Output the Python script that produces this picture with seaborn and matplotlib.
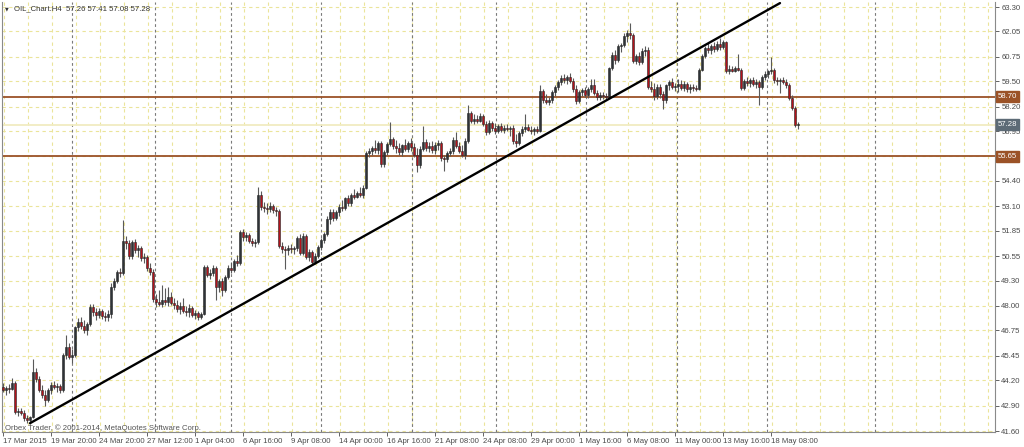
import numpy as np
import pandas as pd
import seaborn as sns
import matplotlib.pyplot as plt

# H4 candles (one value per bar)
opens = [
    43.85, 43.70, 43.80, 43.75, 44.05, 42.55, 42.65, 42.50, 42.25, 42.15,
    42.30, 44.60, 44.25, 43.70, 43.45, 43.20, 43.70, 43.95, 43.85, 43.90,
    43.70, 45.50, 45.90, 45.40, 45.50, 46.90, 47.20, 47.00, 46.75, 47.10,
    47.95, 47.70, 47.55, 47.75, 47.50, 47.45, 47.60, 48.95, 49.30, 49.75,
    49.70, 51.30, 51.20, 50.55, 51.25, 50.85, 50.95, 50.45, 50.50, 49.95,
    49.75, 48.35, 48.20, 48.10, 48.30, 48.20, 48.45, 48.15, 48.05, 47.85,
    48.00, 47.75, 47.70, 47.90, 47.55, 47.65, 47.45, 47.60, 50.00, 49.60,
    49.70, 49.95, 48.95, 49.30, 48.80, 49.50, 49.95, 49.85, 50.30, 50.20,
    51.80, 51.55, 51.65, 51.30, 51.20, 51.25, 53.70, 53.05, 53.00, 52.95,
    53.10, 52.90, 52.85, 51.05, 50.90, 50.85, 50.95, 50.90, 50.95, 51.50,
    50.70, 51.60, 50.50, 50.75, 50.25, 50.55, 51.00, 51.40, 51.70, 52.45,
    52.80, 52.50, 52.80, 53.05, 53.00, 53.50, 53.25, 53.70, 53.60, 53.80,
    53.70, 54.05, 55.85, 55.95, 56.10, 56.00, 56.35, 55.25, 55.90, 56.30,
    56.55, 56.20, 56.10, 55.90, 56.25, 56.05, 56.35, 56.15, 55.75, 55.20,
    56.05, 56.40, 56.10, 56.20, 56.00, 56.25, 56.35, 55.55, 55.50, 55.85,
    55.95, 56.50, 56.20, 55.95, 55.75, 56.45, 57.85, 57.45, 57.55, 57.45,
    57.70, 57.30, 56.90, 57.35, 57.10, 56.95, 57.20, 57.00, 57.10, 57.05,
    57.10, 56.45, 56.35, 56.85, 57.05, 57.15, 57.00, 56.95, 57.05, 56.95,
    59.00, 58.55, 58.45, 58.55, 58.95, 59.20, 59.45, 59.65, 59.55, 59.70,
    59.50, 59.10, 58.50, 58.95, 59.05, 58.80, 59.10, 59.30, 58.90, 58.70,
    58.80, 58.75, 58.70, 60.20, 60.85, 60.60, 61.30, 61.35, 61.80, 61.95,
    61.85, 60.55, 60.80, 60.50, 61.05, 61.10, 59.20, 59.10, 58.75, 59.20,
    58.85, 58.55, 59.30, 59.45, 59.20, 59.25, 59.35, 59.15, 59.35, 59.10,
    59.20, 59.15, 59.10, 60.10, 60.80, 61.20, 61.10, 61.30, 61.15, 61.40,
    61.25, 61.50, 60.05, 60.15, 60.05, 60.20, 60.10, 59.15, 59.50, 59.40,
    59.55, 59.35, 59.45, 59.20, 59.70, 59.85, 60.00, 60.10, 59.55, 59.50,
    59.55, 59.45, 59.30, 58.65, 58.15, 57.26,
]
highs = [
    44.05, 43.90, 44.00, 44.30, 44.15, 42.80, 42.80, 42.70, 42.40, 42.35,
    45.30, 44.80, 44.40, 43.95, 43.70, 43.80, 44.10, 44.15, 44.05, 44.00,
    45.60, 46.50, 46.10, 45.80, 47.00, 47.40, 47.45, 47.30, 47.20, 48.10,
    48.10, 47.90, 47.90, 47.85, 47.70, 47.80, 49.20, 49.45, 49.85, 49.95,
    52.40, 51.60, 51.40, 51.40, 51.45, 51.10, 51.05, 50.70, 50.60, 50.20,
    49.90, 48.60, 48.80, 49.05, 48.90, 48.95, 48.70, 48.40, 48.30, 48.20,
    48.40, 48.00, 48.10, 48.00, 47.80, 47.75, 47.70, 50.10, 50.10, 49.90,
    50.10, 50.05, 49.40, 49.45, 49.60, 50.10, 50.25, 50.40, 50.60, 51.90,
    51.95, 51.80, 51.75, 51.50, 51.45, 54.10, 53.90, 53.30, 53.25, 53.30,
    53.20, 53.05, 52.95, 51.25, 51.05, 51.10, 51.15, 51.05, 51.60, 51.70,
    51.75, 51.70, 50.90, 50.85, 50.70, 51.10, 51.50, 51.80, 52.60, 52.95,
    52.95, 52.90, 53.20, 53.40, 53.60, 53.70, 53.80, 54.00, 53.90, 54.10,
    54.20, 55.95, 56.10, 56.20, 56.50, 56.45, 56.45, 56.00, 56.40, 57.40,
    56.65, 56.50, 56.35, 56.30, 56.55, 56.45, 56.60, 56.35, 56.10, 56.20,
    57.20, 56.55, 56.40, 56.45, 56.40, 56.50, 56.45, 55.75, 55.95, 56.10,
    56.65, 56.90, 56.40, 56.25, 56.60, 58.30, 58.00, 57.80, 57.75, 57.85,
    57.80, 57.45, 57.50, 57.45, 57.35, 57.30, 57.35, 57.25, 57.30, 57.20,
    57.25, 56.80, 56.95, 57.20, 57.80, 57.30, 57.20, 57.15, 57.20, 59.30,
    59.10, 58.85, 58.70, 59.05, 59.30, 59.55, 59.80, 59.85, 59.80, 59.90,
    59.65, 59.30, 59.05, 59.15, 59.20, 59.20, 59.60, 59.60, 59.05, 58.95,
    58.95, 58.90, 60.25, 61.00, 61.10, 61.40, 61.45, 61.95, 62.10, 62.50,
    61.95, 60.90, 61.00, 61.20, 61.30, 61.25, 59.50, 59.40, 59.35, 59.35,
    59.00, 59.35, 59.55, 59.65, 59.40, 59.60, 59.55, 59.50, 59.45, 59.35,
    59.35, 59.30, 60.20, 60.90, 61.30, 61.45, 61.40, 61.50, 61.55, 61.70,
    61.60, 61.55, 60.35, 60.30, 60.30, 60.90, 60.20, 59.60, 59.70, 59.65,
    59.70, 59.60, 59.55, 59.80, 60.05, 60.10, 60.75, 60.20, 59.70, 59.65,
    59.70, 59.60, 59.40, 58.80, 58.25, 57.41,
]
lows = [
    43.60, 43.45, 43.55, 43.70, 42.45, 42.35, 42.40, 42.10, 42.00, 41.95,
    42.25, 44.10, 43.60, 43.30, 42.90, 43.10, 43.50, 43.75, 43.60, 43.55,
    43.60, 45.30, 45.30, 45.10, 45.40, 46.70, 46.80, 46.60, 46.50, 47.00,
    47.50, 47.30, 47.40, 47.35, 47.25, 47.25, 47.40, 48.80, 49.15, 49.50,
    49.60, 50.90, 50.40, 50.40, 50.70, 50.50, 50.30, 50.20, 49.80, 49.60,
    48.20, 47.95, 48.00, 47.95, 48.05, 48.00, 48.05, 47.85, 47.70, 47.60,
    47.65, 47.50, 47.45, 47.45, 47.35, 47.30, 47.35, 47.55, 49.50, 49.40,
    49.55, 48.30, 48.70, 48.50, 48.70, 49.40, 49.70, 49.75, 50.05, 50.10,
    51.35, 51.30, 51.20, 51.05, 51.00, 51.15, 52.90, 52.80, 52.70, 52.80,
    52.75, 52.60, 50.95, 50.70, 49.90, 50.60, 50.70, 50.65, 50.80, 50.60,
    50.60, 50.40, 50.30, 50.10, 50.15, 50.45, 50.85, 51.20, 51.60, 52.20,
    52.35, 52.40, 52.60, 52.85, 52.90, 53.10, 53.10, 53.45, 53.50, 53.60,
    53.55, 54.00, 55.60, 55.75, 55.85, 55.80, 55.10, 55.10, 55.75, 56.20,
    56.05, 55.85, 55.75, 55.70, 55.95, 55.90, 55.95, 55.60, 54.85, 55.05,
    55.95, 55.95, 55.90, 55.85, 55.80, 56.00, 55.40, 54.90, 55.35, 55.70,
    55.80, 56.10, 55.85, 55.60, 55.50, 56.35, 57.35, 57.30, 57.35, 57.40,
    57.20, 56.75, 56.80, 56.95, 56.80, 56.85, 56.90, 56.85, 56.95, 56.70,
    56.30, 56.15, 56.25, 56.70, 56.90, 56.95, 56.80, 56.75, 56.85, 56.90,
    58.40, 58.35, 58.30, 58.40, 58.75, 59.05, 59.30, 59.40, 59.35, 59.40,
    58.95, 58.35, 58.40, 58.75, 58.70, 58.65, 58.95, 58.80, 58.55, 58.55,
    58.60, 58.60, 58.65, 60.10, 60.40, 60.50, 61.00, 61.25, 61.50, 61.65,
    60.45, 60.40, 60.35, 60.40, 60.80, 59.10, 58.95, 58.55, 58.60, 58.65,
    58.10, 58.40, 59.05, 59.10, 59.00, 58.95, 59.05, 59.00, 58.95, 58.90,
    59.00, 59.00, 59.05, 60.00, 60.70, 60.95, 60.90, 61.00, 61.05, 61.10,
    61.15, 59.90, 59.85, 59.95, 59.95, 60.00, 59.05, 59.05, 59.25, 59.20,
    59.25, 59.15, 58.30, 59.10, 59.55, 59.65, 59.85, 59.40, 59.30, 58.90,
    59.35, 59.15, 58.55, 58.05, 57.15, 57.08,
]
closes = [
    43.70, 43.80, 43.75, 44.05, 42.55, 42.65, 42.50, 42.25, 42.15, 42.30,
    44.60, 44.25, 43.70, 43.45, 43.20, 43.70, 43.95, 43.85, 43.90, 43.70,
    45.50, 45.90, 45.40, 45.50, 46.90, 47.20, 47.00, 46.75, 47.10, 47.95,
    47.70, 47.55, 47.75, 47.50, 47.45, 47.60, 48.95, 49.30, 49.75, 49.70,
    51.30, 51.20, 50.55, 51.25, 50.85, 50.95, 50.45, 50.50, 49.95, 49.75,
    48.35, 48.20, 48.10, 48.30, 48.20, 48.45, 48.15, 48.05, 47.85, 48.00,
    47.75, 47.70, 47.90, 47.55, 47.65, 47.45, 47.60, 50.00, 49.60, 49.70,
    49.95, 48.95, 49.30, 48.80, 49.50, 49.95, 49.85, 50.30, 50.20, 51.80,
    51.55, 51.65, 51.30, 51.20, 51.25, 53.70, 53.05, 53.00, 52.95, 53.10,
    52.90, 52.85, 51.05, 50.90, 50.85, 50.95, 50.90, 50.95, 51.50, 50.70,
    51.60, 50.50, 50.75, 50.25, 50.55, 51.00, 51.40, 51.70, 52.45, 52.80,
    52.50, 52.80, 53.05, 53.00, 53.50, 53.25, 53.70, 53.60, 53.80, 53.70,
    54.05, 55.85, 55.95, 56.10, 56.00, 56.35, 55.25, 55.90, 56.30, 56.55,
    56.20, 56.10, 55.90, 56.25, 56.05, 56.35, 56.15, 55.75, 55.20, 56.05,
    56.40, 56.10, 56.20, 56.00, 56.25, 56.35, 55.55, 55.50, 55.85, 55.95,
    56.50, 56.20, 55.95, 55.75, 56.45, 57.85, 57.45, 57.55, 57.45, 57.70,
    57.30, 56.90, 57.35, 57.10, 56.95, 57.20, 57.00, 57.10, 57.05, 57.10,
    56.45, 56.35, 56.85, 57.05, 57.15, 57.00, 56.95, 57.05, 56.95, 59.00,
    58.55, 58.45, 58.55, 58.95, 59.20, 59.45, 59.65, 59.55, 59.70, 59.50,
    59.10, 58.50, 58.95, 59.05, 58.80, 59.10, 59.30, 58.90, 58.70, 58.80,
    58.75, 58.70, 60.20, 60.85, 60.60, 61.30, 61.35, 61.80, 61.95, 61.85,
    60.55, 60.80, 60.50, 61.05, 61.10, 59.20, 59.10, 58.75, 59.20, 58.85,
    58.55, 59.30, 59.45, 59.20, 59.25, 59.35, 59.15, 59.35, 59.10, 59.20,
    59.15, 59.10, 60.10, 60.80, 61.20, 61.10, 61.30, 61.15, 61.40, 61.25,
    61.50, 60.05, 60.15, 60.05, 60.20, 60.10, 59.15, 59.50, 59.40, 59.55,
    59.35, 59.45, 59.20, 59.70, 59.85, 60.00, 60.10, 59.55, 59.50, 59.55,
    59.45, 59.30, 58.65, 58.15, 57.26, 57.28,
]

# support / resistance levels and bid
level_lines = [58.70, 55.65]
last_price = 57.28

# trend line (bar index, price)
trend_bars = [9, 259]
trend_prices = [42.0, 63.5]

price_ticks = [63.30, 62.05, 60.75, 59.50, 58.20, 56.95, 55.65, 54.40, 53.10,
               51.85, 50.55, 49.30, 48.00, 46.75, 45.45, 44.20, 42.90, 41.60]
date_labels = ["17 Mar 2015", "19 Mar 20:00", "24 Mar 20:00", "27 Mar 12:00",
               "1 Apr 04:00", "6 Apr 16:00", "9 Apr 08:00", "14 Apr 00:00",
               "16 Apr 16:00", "21 Apr 08:00", "24 Apr 08:00", "29 Apr 00:00",
               "1 May 16:00", "6 May 08:00", "11 May 00:00", "13 May 16:00",
               "18 May 08:00"]
date_bars = [0, 16, 32, 48, 64, 80, 96, 112, 128, 144, 160, 176, 192, 208,
             224, 240, 256]
# weekly period separators (bar positions)
week_breaks = [23, 50.7, 76, 106, 136.3, 164.3, 194.3, 224.7, 254.7, 290.7]

sns.set_style("white")
plt.rcParams['font.family'] = ['Liberation Sans', 'DejaVu Sans']

df = pd.DataFrame({"open": opens, "high": highs, "low": lows, "close": closes})
df["bar"] = np.arange(len(df))
df["up"] = df["close"] >= df["open"]
df["bottom"] = df[["open", "close"]].min(axis=1)
df["height"] = (df["close"] - df["open"]).abs().clip(lower=0.04)

fig = plt.figure(figsize=(10.24, 4.47), dpi=100)
ax = fig.add_axes([2 / 1024, 15 / 447, 993 / 1024, 430 / 447])

grid_col = "#ebe49a"
for p in price_ticks:
    ax.axhline(p, color=grid_col, lw=0.8, ls=(0, (3, 3)), zorder=0)
for b in np.arange(0.5, 331, 8):
    ax.axvline(b, color=grid_col, lw=0.8, ls=(0, (3, 3)), zorder=0)
for b in week_breaks:
    ax.axvline(b, color="#7a7a7a", lw=0.8, ls=(0, (2.5, 2.5)), zorder=1)

# bid line and levels
ax.axhline(last_price, color="#f1ecc2", lw=1.3, zorder=1)
for lv in level_lines:
    ax.axhline(lv, color="#9b5227", lw=1.3, zorder=2)

# candles
ax.vlines(df["bar"], df["low"], df["high"], color="#5a5a5a", lw=0.8, zorder=3)
body_cols = np.where(df["up"], "#2e3338", "#b3121b")
ax.bar(df["bar"], df["height"], bottom=df["bottom"], width=0.62,
       color=body_cols, edgecolor="#262626", linewidth=0.4, zorder=4)

sns.lineplot(x=trend_bars, y=trend_prices, ax=ax, color="black", lw=1.7,
             zorder=5)

ax.set_xlim(-1 / 3, 330.67)
ax.set_ylim(41.55, 63.556)

ax.yaxis.tick_right()
ax.set_yticks(price_ticks)
# a tick sitting under a level box is covered by that box in the terminal
ax.set_yticklabels(["" if any(abs(p - lv) < 0.01 for lv in level_lines)
                    else f"{p:.2f}" for p in price_ticks])
ax.set_xticks(date_bars)
ax.set_xticklabels(date_labels)
for lab in ax.get_xticklabels():
    lab.set_ha("left")
ax.tick_params(axis="y", right=True, length=3, width=0.6, pad=1.5,
               labelsize=5.6, colors="#4a4a4a")
ax.tick_params(axis="x", bottom=True, length=3, width=0.6, pad=1.5,
               labelsize=5.6, colors="#4a4a4a")

for s in ["left", "bottom", "right"]:
    ax.spines[s].set_color("#8a8a8a")
    ax.spines[s].set_linewidth(0.8)
ax.spines["top"].set_visible(False)

# right-hand price boxes
for lv in level_lines:
    ax.text(1.003, lv, f"{lv:.2f}", transform=ax.get_yaxis_transform(),
            fontsize=5.6, color="white", va="center", ha="left", zorder=6,
            bbox=dict(boxstyle="square,pad=0.25", fc="#9b5227", ec="#9b5227"))
ax.text(1.003, last_price, f"{last_price:.2f}", transform=ax.get_yaxis_transform(),
        fontsize=5.6, color="white", va="center", ha="left", zorder=6,
        bbox=dict(boxstyle="square,pad=0.25", fc="#5d6b76", ec="#5d6b76"))

fig.text(5 / 1024, 1 - 8.5 / 447, "\u25bc", fontsize=3.5, color="#333333",
         va="center", family=["DejaVu Sans"])
fig.text(14 / 1024, 1 - 8.5 / 447, "OIL_Chart.H4  57.26 57.41 57.08 57.28",
         fontsize=5.6, color="#333333", va="center")
fig.text(5 / 1024, 1 - 428 / 447,
         "Orbex Trader, \u00a9 2001-2014, MetaQuotes Software Corp.",
         fontsize=5.6, color="#555555", va="center")

plt.savefig("out.png", dpi=100)
